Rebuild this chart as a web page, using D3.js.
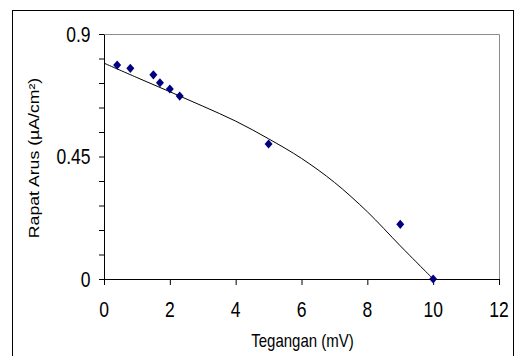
<!DOCTYPE html>
<html><head><meta charset="utf-8">
<script src="https://cdn.jsdelivr.net/npm/d3@7"></script>
<style>html,body{margin:0;padding:0;background:#fff;} svg{display:block}</style>
</head><body>
<svg id="c" width="514" height="356"></svg>
<script>
// measured points
const voltage = [0.4, 0.8, 1.5, 1.7, 2.0, 2.3, 5.0, 9.0, 10.0];
const density = [0.786, 0.774, 0.75, 0.721, 0.698, 0.672, 0.496, 0.201, 0.0];
// smooth fit curve
const fitVoltage = [0, 1, 2, 3, 4, 5, 6, 7, 8, 9, 10];
const fitDensity = [0.793, 0.740, 0.688, 0.635, 0.580, 0.515, 0.443, 0.355, 0.247, 0.122, 0.0];
const xTicks = [0, 2, 4, 6, 8, 10, 12];
const xTickLabels = ["0", "2", "4", "6", "8", "10", "12"];
const yMajorTicks = [0, 0.45, 0.9];
const yTickLabels = ["0", "0.45", "0.9"];
const yMinorStep = 0.09;
const xTitle = "Tegangan (mV)";
const yTitle = "Rapat Arus (µA/cm²)";

const svg = d3.select("#c");
const W = 514, H = 356;
const L = 104, R = 499, T = 34, B = 279;
const SY = 1.22; // vertical text stretch of the original
const font = "'Liberation Sans', Arial, sans-serif";

svg.append("rect").attr("x", 0).attr("y", 0).attr("width", W).attr("height", H).attr("fill", "#fff");
// outer frame
svg.append("rect").attr("x", 12.5).attr("y", 10.5).attr("width", 501).attr("height", 400)
  .attr("fill", "none").attr("stroke", "#000").attr("stroke-width", 1);

const x = d3.scaleLinear().domain([0, 12]).range([L, R]);
const y = d3.scaleLinear().domain([0, 0.9]).range([B, T]);

// plot top/right border (gray)
svg.append("path")
  .attr("d", `M${x(0)+0.5},${y(0.9)+0.5}H${x(12)+0.5}V${y(0)+0.5}`)
  .attr("fill", "none").attr("stroke", "#8c8c8c").attr("stroke-width", 1);

// y axis
const yTickVals = d3.range(0, 11).map(i => +(i * yMinorStep).toFixed(2));
const gy = svg.append("g").attr("transform", `translate(${L},0)`)
  .call(d3.axisLeft(y).tickValues(yTickVals).tickSize(5).tickSizeOuter(0).tickFormat(""));
gy.selectAll("path,line").attr("stroke", "#000");

// x axis
const gx = svg.append("g").attr("transform", `translate(0,${B})`)
  .call(d3.axisBottom(x).tickValues(xTicks).tickSize(6).tickSizeOuter(0).tickFormat(""));
gx.selectAll("path,line").attr("stroke", "#000");

// tick labels
svg.append("g").selectAll("text").data(xTicks).join("text")
  .attr("transform", (d) => `translate(${x(d)},316.5) scale(1,${SY})`)
  .attr("text-anchor", "middle").attr("font-family", font).attr("font-size", 17.5)
  .attr("fill", "#000").text((d, i) => xTickLabels[i]);

svg.append("g").selectAll("text").data(yMajorTicks).join("text")
  .attr("transform", (d) => `translate(90.5,${y(d) + 7.6}) scale(1,${SY})`)
  .attr("text-anchor", "end").attr("font-family", font).attr("font-size", 17.5)
  .attr("fill", "#000").text((d, i) => yTickLabels[i]);

// axis titles
svg.append("text")
  .attr("transform", `translate(${(L + R) / 2 + 1},346.5) scale(1,${SY})`)
  .attr("text-anchor", "middle").attr("font-family", font).attr("font-size", 15)
  .attr("fill", "#000").text(xTitle);

svg.append("text")
  .attr("transform", `translate(38.5,${(T + B) / 2 + 1.5}) scale(1,${SY}) rotate(-90)`)
  .attr("text-anchor", "middle").attr("font-family", font).attr("font-size", 14.5)
  .attr("fill", "#000").text(yTitle);

// fit curve
const fitData = fitVoltage.map((v, i) => [v, fitDensity[i]]);
svg.append("path").datum(fitData)
  .attr("d", d3.line().x(d => x(d[0])).y(d => y(d[1])).curve(d3.curveCatmullRom.alpha(0.5)))
  .attr("fill", "none").attr("stroke", "#000").attr("stroke-width", 1);

// diamond markers
const pts = voltage.map((v, i) => [v, density[i]]);
const hw = 4, hh = 4.6;
svg.append("g").selectAll("path").data(pts).join("path")
  .attr("transform", d => `translate(${x(d[0])},${y(d[1])})`)
  .attr("d", `M0,${-hh}L${hw},0L0,${hh}L${-hw},0Z`)
  .attr("fill", "#000080");
</script>
</body></html>
